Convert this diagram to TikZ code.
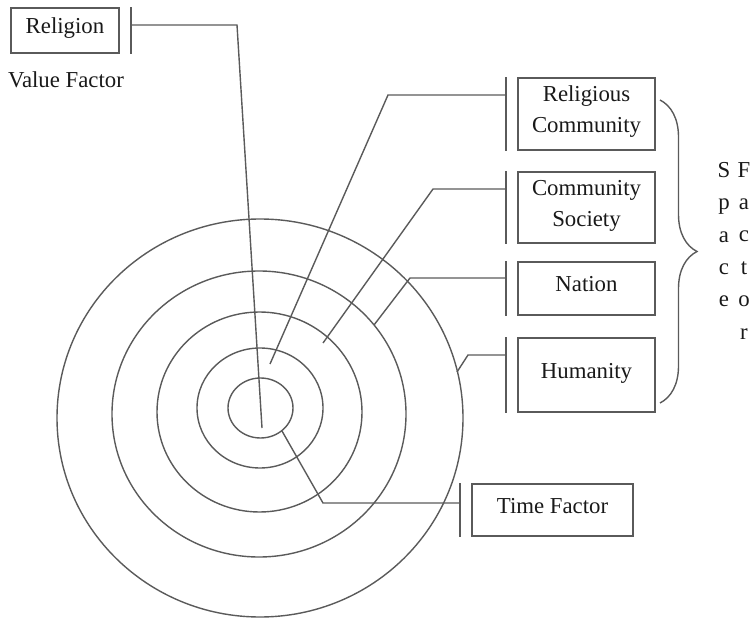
\documentclass[tikz,border=0pt]{standalone}
\usepackage{fontspec}
\setmainfont{Liberation Serif}
\usetikzlibrary{decorations.pathreplacing}

\definecolor{linegray}{RGB}{90,90,90}
\definecolor{inkgray}{RGB}{25,25,25}

\begin{document}
\begin{tikzpicture}[x=1pt,y=-1pt,
        factor/.style={draw=linegray,line width=1.6pt,inner sep=0pt,align=center,text=inkgray,text depth=9pt,font=\fontsize{22.8}{31}\selectfont},
        plain/.style={inner sep=0pt,align=center,text=inkgray,font=\fontsize{22.8}{32.4}\selectfont},
        link/.style={draw=linegray,line width=1.4pt},
        bar/.style={draw=linegray,line width=2pt}]
    \useasboundingbox (0,0) rectangle (755,620);

    % rings
    \draw [link] (260,418) ellipse [x radius=203pt, y radius=199pt];
    \draw [link] (259,414) ellipse [x radius=147pt, y radius=143pt];
    \draw [link] (259.5,412) ellipse [x radius=102.5pt, y radius=100pt];
    \draw [link] (260,408) ellipse [x radius=63pt, y radius=60pt];
    \draw [link] (260.5,408) ellipse [x radius=32.5pt, y radius=30pt];

    % factor boxes
    \node [factor,minimum width=108pt,minimum height=45pt] (relig) at (65,30.5) {Religion};
    \node [plain] (valuef) at (66,80) {Value Factor};
    \node [factor,minimum width=137pt,minimum height=72pt] (relcom) at (586.5,114) {Religious\\Community};
    \node [factor,minimum width=137pt,minimum height=71pt] (comsoc) at (586.5,207.5) {Community\\Society};
    \node [factor,minimum width=137pt,minimum height=53pt] (nation) at (586.5,288.5) {Nation};
    \node [factor,minimum width=137pt,minimum height=74pt] (human) at (586.5,375) {Humanity};
    \node [factor,minimum width=161pt,minimum height=52pt] (timef) at (552.5,510) {Time Factor};

    % bars in front of the boxes
    \draw [bar] ([xshift=11pt]relig.north east) -- ([xshift=11pt]relig.south east);
    \draw [bar] ([xshift=-11pt]relcom.north west) -- ([xshift=-11pt]relcom.south west);
    \draw [bar] ([xshift=-11pt]comsoc.north west) -- ([xshift=-11pt]comsoc.south west);
    \draw [bar] ([xshift=-11pt]nation.north west) -- ([xshift=-11pt]nation.south west);
    \draw [bar] ([xshift=-11pt]human.north west) -- ([xshift=-11pt]human.south west);
    \draw [bar] ([xshift=-11pt]timef.north west) -- ([xshift=-11pt]timef.south west);

    \coordinate (relig-tick) at ([xshift=11pt]relig.east);
    \coordinate (relcom-tick) at ([xshift=-11pt]relcom.west);
    \coordinate (comsoc-tick) at ([xshift=-11pt]comsoc.west);
    \coordinate (nation-tick) at ([xshift=-11pt]nation.west);
    \coordinate (human-tick) at ([xshift=-11pt]human.west);
    \coordinate (timef-tick) at ([xshift=-11pt]timef.west);

    % leader lines into the rings
    \coordinate (relig-bend) at (237,25);
    \coordinate (relig-in) at (262,428);
    \coordinate (relcom-bend) at (388,95);
    \coordinate (relcom-in) at (270,364);
    \coordinate (comsoc-bend) at (433,189);
    \coordinate (comsoc-in) at (323,343);
    \coordinate (nation-bend) at (410,278);
    \coordinate (nation-in) at (374,325);
    \coordinate (human-bend) at (468,355);
    \coordinate (human-in) at (457,372);
    \coordinate (timef-bend) at (323,503);
    \coordinate (timef-in) at (282,431);

    \draw [link] (relig-bend -| relig-tick) -- (relig-bend) -- (relig-in);
    \draw [link] (relcom-bend -| relcom-tick) -- (relcom-bend) -- (relcom-in);
    \draw [link] (comsoc-bend -| comsoc-tick) -- (comsoc-bend) -- (comsoc-in);
    \draw [link] (nation-bend -| nation-tick) -- (nation-bend) -- (nation-in);
    \draw [link] (human-bend -| human-tick) -- (human-bend) -- (human-in);
    \draw [link] (timef-in) -- (timef-bend) -- (timef-bend -| timef-tick);

    % brace and the vertical label
    \coordinate (brace-top) at (660,100);
    \coordinate (brace-bot) at (660,403);
    \draw [link,decorate,decoration={brace,amplitude=37pt}] (brace-top) -- (brace-bot);
    \node [plain,anchor=north] (spacecol) at (724,162) {S\\p\\a\\c\\e};
    \node [plain,anchor=north] (factorcol) at (744,162) {F\\a\\c\\t\\o\\r};
\end{tikzpicture}
\end{document}
